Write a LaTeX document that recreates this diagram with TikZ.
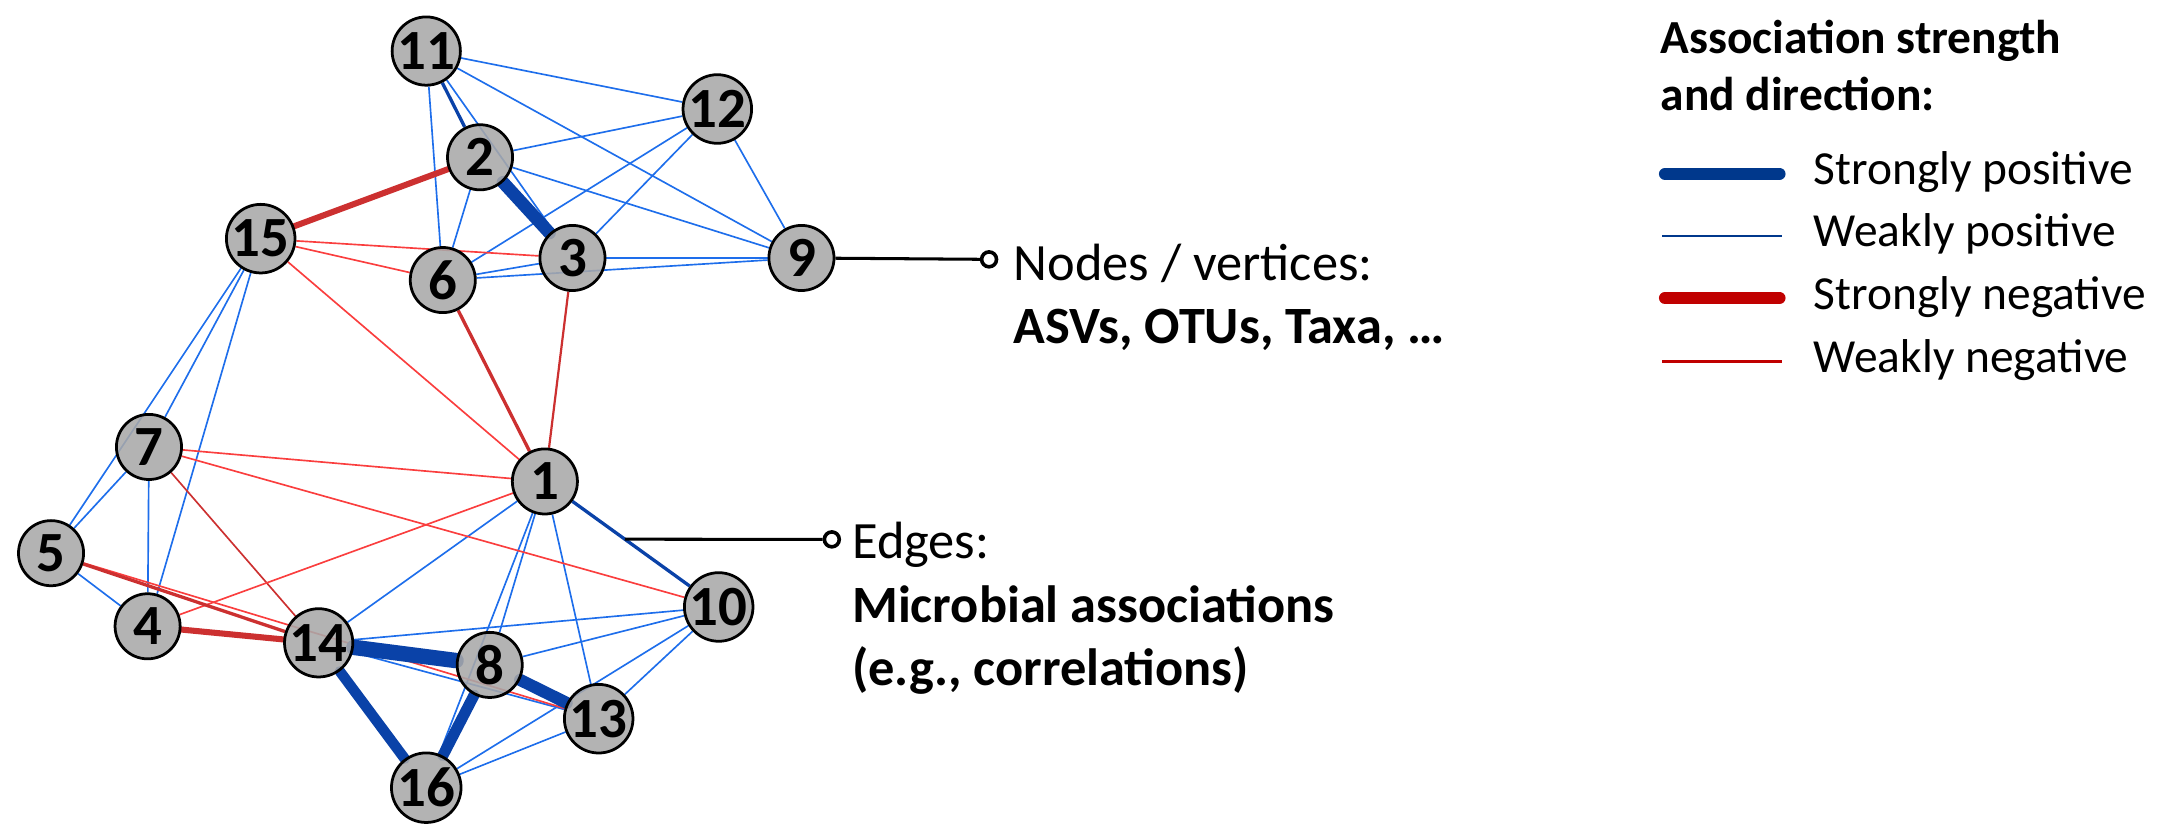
\documentclass[tikz,border=0pt]{standalone}
\usepackage{fontspec}
\setmainfont{Carlito}
\usetikzlibrary{positioning,calc}
\pgfdeclarelayer{bg}
\pgfsetlayers{bg,main}

\definecolor{wpos}{RGB}{30,110,235}
\definecolor{spos}{RGB}{10,66,168}
\definecolor{wneg}{RGB}{250,62,62}
\definecolor{sneg}{RGB}{204,48,48}
\definecolor{legpos}{RGB}{0,56,140}
\definecolor{legneg}{RGB}{192,0,0}
\definecolor{otugray}{RGB}{168,168,168}

\tikzset{
  otu/.style={shape=circle,draw,fill=otugray,fill opacity=0.88,text opacity=1,
    line width=0.5pt,minimum size=11.8pt,inner sep=0pt,
    font=\fontsize{10.3}{10.3}\selectfont\bfseries},
  wp/.style={draw=wpos,line width=0.3pt},
  mp/.style={draw=spos,line width=0.6pt},
  sp/.style={draw=spos,line width=2.3pt,line cap=round},
  wn/.style={draw=wneg,line width=0.3pt},
  mn/.style={draw=sneg,line width=0.6pt},
  sn/.style={draw=sneg,line width=1.1pt,line cap=round},
  pindot/.style={shape=circle,draw,fill=white,line width=0.65pt,minimum size=2.7pt,inner sep=0pt},
  pin/.style={draw,line width=0.55pt},
  desc/.style={anchor=base west,inner sep=0pt,font=\fontsize{9.5}{11.5}\selectfont},
  descb/.style={desc,font=\fontsize{9.5}{11.5}\selectfont\bfseries},
  keytxt/.style={anchor=base west,inner sep=0pt,font=\fontsize{8.6}{10.3}\selectfont},
  keyhead/.style={keytxt,font=\fontsize{8.6}{10.3}\selectfont\bfseries}
}

\begin{document}
\begin{tikzpicture}[x=0.25pt,y=-0.25pt]
\useasboundingbox (0,0) rectangle (1568,603);

% taxa
\node[otu] (n11) at (309,37) {11};
\node[otu] (n12) at (520,79) {12};
\node[otu] (n2) at (348,114) {2};
\node[otu] (n15) at (189,173) {15};
\node[otu] (n6) at (321,203) {6};
\node[otu] (n3) at (415,187) {3};
\node[otu] (n9) at (581,187) {9};
\node[otu] (n7) at (108,324) {7};
\node[otu] (n1) at (395,349) {1};
\node[otu] (n5) at (37,401) {5};
\node[otu] (n4) at (107,454) {4};
\node[otu] (n14) at (231,466) {14};
\node[otu] (n8) at (355,482) {8};
\node[otu] (n10) at (521,440) {10};
\node[otu] (n13) at (434,521) {13};
\node[otu] (n16) at (309,571) {16};

% associations
\begin{pgfonlayer}{bg}
\path
(n11) edge[wp] (n12)
(n11) edge[wp] (n9)
(n11) edge[wp] (n6)
(n11) edge[wp] (n3)
(n11) edge[mp] (n2)
(n12) edge[wp] (n2)
(n12) edge[wp] (n6)
(n12) edge[wp] (n3)
(n12) edge[wp] (n9)
(n2) edge[wp] (n9)
(n2) edge[wp] (n6)
(n6) edge[wp] (n3)
(n6) edge[wp] (n9)
(n3) edge[wp] (n9)
(n15) edge[wp] (n7)
(n15) edge[wp] (n5)
(n15) edge[wp] (n4)
(n7) edge[wp] (n5)
(n7) edge[wp] (n4)
(n5) edge[wp] (n4)
(n14) edge[wp] (n1)
(n14) edge[wp] (n10)
(n14) edge[wp] (n13)
(n1) edge[wp] (n8)
(n1) edge[wp] (n16)
(n1) edge[wp] (n13)
(n1) edge[mp] (n10)
(n10) edge[wp] (n8)
(n10) edge[wp] (n13)
(n10) edge[wp] (n16)
(n13) edge[wp] (n16)
(n15) edge[wn] (n3)
(n15) edge[wn] (n6)
(n15) edge[wn] (n1)
(n3) edge[mn,line width=0.4pt] (n1)
(n6) edge[mn] (n1)
(n7) edge[wn] (n1)
(n7) edge[wn] (n10)
(n7) edge[wn,draw=sneg] (n14)
(n4) edge[wn] (n1)
(n5) edge[wn] (n13)
(n5) edge[mn] (n14)
(n15) edge[sn] (n2)
(n4) edge[sn] (n14)
(n2) edge[sp] (n3)
(n14) edge[sp,line width=2.8pt] (n8)
(n14) edge[sp,line width=1.9pt] (n16)
(n8) edge[sp,line width=2pt] (n16)
(n8) edge[sp,line width=2.2pt] (n13);
\end{pgfonlayer}

% callouts
\node[pindot] (ndot) at (717,188) {};
\draw[pin] (n9) -- (ndot);
\node[desc] (ntxt) at (734,203) {Nodes / vertices:};
\node[descb] (ntxtb) at (734,249) {ASVs, OTUs, Taxa, \dots};

\coordinate (epin) at ($(n1)!0.46!(n10)$);
\node[pindot] (edot) at (603,391) {};
\draw[pin] (epin) -- (edot);
\node[desc] (etxt) at (617,405) {Edges:};
\node[descb] (etxtb) at (617,451) {Microbial associations};
\node[descb] (etxtc) at (617,497) {(e.g., correlations)};

% key
\node[keyhead] (khead) at (1203,39) {Association strength};
\node[keyhead] (khead2) at (1203,80) {and direction:};
\draw[legpos,line width=2.2pt,line cap=round] (1207,126) -- (1290,126);
\draw[legpos,line width=0.5pt] (1205,171) -- (1292,171);
\draw[legneg,line width=2.2pt,line cap=round] (1207,216) -- (1290,216);
\draw[legneg,line width=0.5pt] (1205,262) -- (1292,262);
\node[keytxt] (k1) at (1314,134) {Strongly positive};
\node[keytxt] (k2) at (1314,179) {Weakly positive};
\node[keytxt] (k3) at (1314,224) {Strongly negative};
\node[keytxt] (k4) at (1314,270) {Weakly negative};
\end{tikzpicture}
\end{document}
